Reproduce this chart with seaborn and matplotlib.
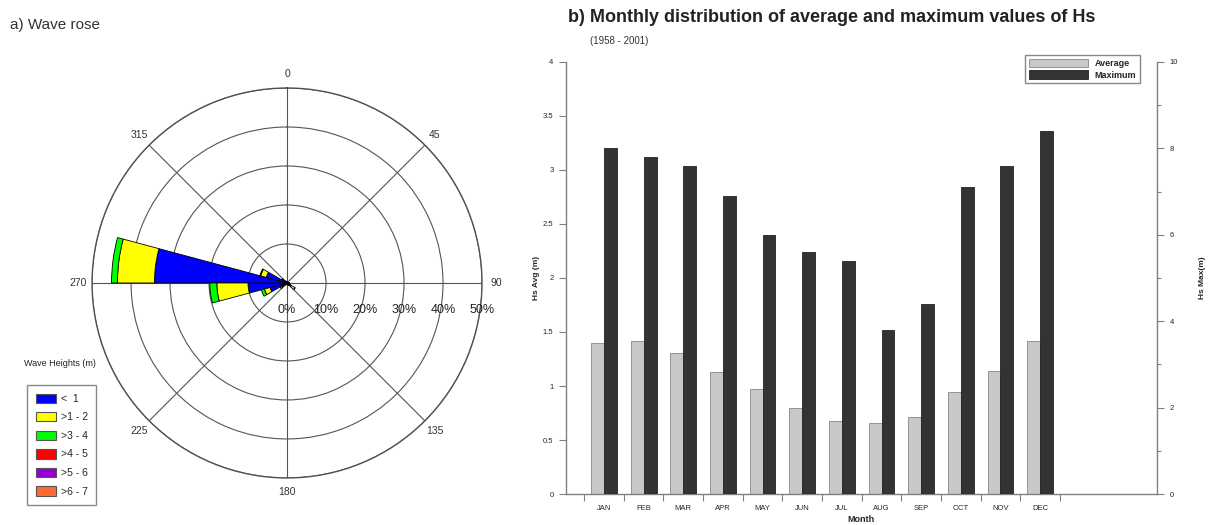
import numpy as np
import pandas as pd
import matplotlib.pyplot as plt
import seaborn as sns
from matplotlib.patches import Patch
from matplotlib.transforms import offset_copy

sns.set_theme(style="white")
plt.rcParams['font.family'] = ['Liberation Sans', 'DejaVu Sans']

# Wave rose data (% of time per 15 deg direction sector)
sectors = [7.5, 22.5, 37.5, 52.5, 67.5, 82.5, 97.5, 112.5, 127.5, 142.5, 157.5, 172.5,
           187.5, 202.5, 217.5, 232.5, 247.5, 262.5, 277.5, 292.5, 307.5, 322.5, 337.5, 352.5]
h_lt1 = [0.4, 0.3, 0.3, 0.3, 0.4, 0.5, 0.6, 0.8, 1.2, 0.8, 0.5, 0.4,
         0.4, 0.4, 0.6, 1.5, 4.5, 10.0, 34.0, 5.5, 1.5, 0.6, 0.4, 0.4]
h_1_2 = [0, 0, 0, 0, 0, 0, 0, 0, 1.2, 0, 0, 0,
         0, 0, 0, 0.5, 1.5, 8.0, 9.5, 1.5, 0, 0, 0, 0]
h_3_4 = [0, 0, 0, 0, 0, 0, 0, 0, 0, 0, 0, 0,
         0, 0, 0, 0, 0.8, 1.8, 1.5, 0.2, 0, 0, 0, 0]
h_4_5 = [0] * 24
h_5_6 = [0] * 24
h_6_7 = [0] * 24
height_classes = ['<  1', '>1 - 2', '>3 - 4', '>4 - 5', '>5 - 6', '>6 - 7']
class_colors = ['#0000ff', '#ffff00', '#00ff00', '#ff0000', '#9400d3', '#ff6a33']
ring_vals = [0, 10, 20, 30, 40, 50]
ring_labels = ['0%', '10%', '20%', '30%', '40%', '50%']
compass = [0, 45, 90, 135, 180, 225, 270, 315]

# Monthly Hs data
months = ['JAN', 'FEB', 'MAR', 'APR', 'MAY', 'JUN', 'JUL', 'AUG', 'SEP', 'OCT', 'NOV', 'DEC']
hs_avg = [1.40, 1.42, 1.31, 1.13, 0.97, 0.80, 0.68, 0.66, 0.71, 0.94, 1.14, 1.42]
hs_max = [8.0, 7.8, 7.6, 6.9, 6.0, 5.6, 5.4, 3.8, 4.4, 7.1, 7.6, 8.4]
series = ['Average', 'Maximum']
bar_colors = {'Average': '#c8c8c8', 'Maximum': '#333333'}

fig = plt.figure(figsize=(12.08, 5.25), dpi=100)

# ---- a) wave rose
axr = fig.add_axes([0.0762, 0.0895, 0.3228, 0.743], projection='polar')
axr.set_theta_zero_location('N')
axr.set_theta_direction(-1)
bottom = np.zeros(len(sectors))
for vals, col in zip([h_lt1, h_1_2, h_3_4, h_4_5, h_5_6, h_6_7], class_colors):
    vals = np.array(vals, dtype=float)
    if vals.sum() == 0:
        continue
    axr.bar(np.deg2rad(sectors), vals, width=np.deg2rad(15), bottom=bottom,
            color=col, edgecolor='black', linewidth=0.6, zorder=3)
    bottom += vals
axr.set_ylim(0, 50)
axr.set_rticks(ring_vals[1:])
axr.set_yticklabels([])
axr.set_thetagrids(compass, [str(c) for c in compass], fontsize=7.5, color='#333333')
axr.tick_params(axis='x', pad=-3)
axr.grid(True, color='#555555', linewidth=0.8)
axr.spines['polar'].set_color('#505050')
axr.spines['polar'].set_linewidth(1.0)
shift = offset_copy(axr.transData, fig=fig, x=0, y=-27, units='dots')
for r, lab in zip(ring_vals, ring_labels):
    axr.text(np.deg2rad(90), r, lab, transform=shift, ha='center', va='center',
             fontsize=9, color='#222222', zorder=5)

fig.text(10 / 1208, 1 - 25 / 525, 'a) Wave rose', fontsize=11, color='#333333',
         va='center', ha='left')
fig.text(60 / 1208, 1 - 363 / 525, 'Wave Heights (m)', fontsize=6.5, color='#222222',
         ha='center', va='center')
rose_handles = [Patch(facecolor=c, edgecolor='#555555', linewidth=0.8) for c in class_colors]
fig.legend(rose_handles, height_classes, loc='upper left',
           bbox_to_anchor=(22 / 1208, 1 - 380 / 525), fancybox=False,
           edgecolor='#888888', fontsize=7.5, handlelength=2.0, handleheight=1.0,
           labelspacing=0.8, borderpad=0.8, handletextpad=0.4, framealpha=1)

# ---- b) monthly bars
ax = fig.add_axes([0.4685, 0.059, 0.4893, 0.823])
ax2 = ax.twinx()
df_avg = pd.DataFrame({'Month': months, 'Hs': hs_avg, 'Series': 'Average'})
df_max = pd.DataFrame({'Month': months, 'Hs': hs_max, 'Series': 'Maximum'})
sns.barplot(data=df_avg, x='Month', y='Hs', hue='Series', hue_order=series,
            palette=bar_colors, width=0.65, dodge=True, errorbar=None,
            edgecolor='#888888', linewidth=0.6, legend=False, ax=ax)
sns.barplot(data=df_max, x='Month', y='Hs', hue='Series', hue_order=series,
            palette=bar_colors, width=0.65, dodge=True, errorbar=None,
            edgecolor='#222222', linewidth=0.6, legend=False, ax=ax2)

ax.set_xlim(-0.96, 13.95)
ax.set_ylim(0, 4)
ax2.set_ylim(0, 10)
ax.set_xticks(range(len(months)))
ax.set_xticklabels(months, fontsize=5.5)
ax.set_xticks(np.arange(-0.5, len(months), 1), minor=True)
ax.tick_params(axis='x', which='major', length=0, pad=8)
ax.tick_params(axis='x', which='minor', bottom=True, length=5, width=0.8,
               color='#808080', direction='out')
ax.set_yticks([0, 0.5, 1, 1.5, 2, 2.5, 3, 3.5, 4],
              ['0', '0.5', '1', '1.5', '2', '2.5', '3', '3.5', '4'])
ax.tick_params(axis='y', left=True, length=5, width=0.8, color='#808080',
               labelsize=5.5, pad=4, direction='out')
ax2.set_yticks([0, 2, 4, 6, 8, 10])
ax2.set_yticks([1, 3, 5, 7, 9], minor=True)
ax2.tick_params(axis='y', which='major', right=True, length=5, width=0.8,
                color='#808080', labelsize=5.5, pad=4, direction='out')
ax2.tick_params(axis='y', which='minor', right=True, length=3, width=0.8,
                color='#808080', direction='out')

for a in (ax, ax2):
    for s in a.spines.values():
        s.set_visible(False)
ax.spines['left'].set_visible(True)
ax.spines['bottom'].set_visible(True)
ax2.spines['right'].set_visible(True)
for s in (ax.spines['left'], ax.spines['bottom'], ax2.spines['right']):
    s.set_color('#808080')
    s.set_linewidth(1.0)

ax.set_xlabel('Month', fontsize=6.5, fontweight='bold', labelpad=2)
ax.set_ylabel('Hs Avg (m)', fontsize=6, fontweight='bold', labelpad=2)
ax2.set_ylabel('Hs Max(m)', fontsize=6, fontweight='bold', labelpad=15)

bar_handles = [Patch(facecolor=bar_colors['Average'], edgecolor='#888888', linewidth=0.6),
               Patch(facecolor=bar_colors['Maximum'], edgecolor='#222222', linewidth=0.6)]
ax2.legend(bar_handles, series, loc='upper right', bbox_to_anchor=(0.971, 1.016),
           borderaxespad=0, fancybox=False, edgecolor='#888888', framealpha=1,
           prop={'weight': 'bold', 'size': 6.5}, handlelength=6.5, handleheight=1.1,
           labelspacing=0.25, borderpad=0.4)

fig.text(568 / 1208, 1 - 18 / 525,
         'b) Monthly distribution of average and maximum values of Hs',
         fontsize=13, fontweight='bold', color='#222222', ha='left', va='center')
fig.text(590 / 1208, 1 - 41 / 525, '(1958 - 2001)', fontsize=7, color='#333333',
         ha='left', va='center')

fig.savefig('out.png', dpi=100)
